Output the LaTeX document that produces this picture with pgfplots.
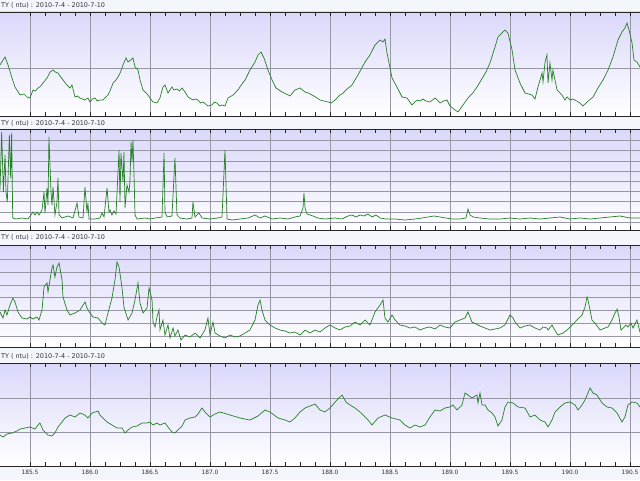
\documentclass[border=0pt]{standalone}
\usepackage{pgfplots}
\pgfplotsset{compat=1.18}
\usepackage{fontspec}
\setmainfont{DejaVu Sans}

\definecolor{pagebg}{RGB}{243,246,250}
\definecolor{lav}{RGB}{218,216,250}
\definecolor{trace}{RGB}{40,128,40}
\definecolor{gridc}{RGB}{150,150,165}
\definecolor{titlec}{RGB}{50,50,60}

\pgfplotsset{
  panel/.style={
    scale only axis, width=16.35cm, anchor=south west,
    xmin=185.2, xmax=190.65, ymin=0,
    axis background/.style={shade, top color=lav, bottom color=white},
    xtick={185.5,186.0,186.5,187.0,187.5,188.0,188.5,189.0,189.5,190.0,190.5},
    minor x tick num=3, xtick pos=both, tick align=inside,
    major tick length=0.1cm, minor tick length=0.1cm,
    xmajorgrids, ymajorgrids,
    major grid style={gridc, line width=0.4pt},
    ytick style={draw=none}, yticklabels={}, xticklabels={},
    axis line style={black!85, line width=0.7pt},
    tick style={black!85, line width=0.5pt},
  },
  wave/.style={trace, line width=0.5pt, mark=none},
}

\begin{document}
\begin{tikzpicture}
\fill[pagebg] (0,0) rectangle (16,12);

% panel 1
\begin{axis}[panel, at={(-0.15cm,9.1cm)}, height=2.6cm, ymax=104, ytick={48}]
\addplot[wave] coordinates {
(185.250,51) (185.275,56) (185.292,59) (185.317,51) (185.350,38) (185.375,29) (185.417,21) (185.450,22)
(185.475,19) (185.500,18) (185.525,26) (185.545,25) (185.567,28) (185.590,30) (185.608,33) (185.642,38)
(185.667,44) (185.692,46) (185.710,44) (185.733,43) (185.750,40) (185.775,36) (185.808,31) (185.833,28)
(185.850,31) (185.875,19) (185.895,20) (185.917,18) (185.958,16) (185.983,18) (186.000,14) (186.020,17)
(186.042,18) (186.060,15) (186.083,16) (186.108,16) (186.150,21) (186.170,26) (186.192,33) (186.210,35)
(186.233,39) (186.255,44) (186.275,51) (186.300,58) (186.317,54) (186.350,57) (186.358,58) (186.375,49)
(186.400,46) (186.417,36) (186.442,26) (186.460,24) (186.483,21) (186.505,17) (186.525,14) (186.558,13)
(186.583,18) (186.608,29) (186.625,31) (186.650,23) (186.683,29) (186.700,26) (186.725,27) (186.745,25)
(186.767,28) (186.792,24) (186.817,19) (186.858,16) (186.880,17) (186.900,16) (186.920,13) (186.942,14)
(186.983,10) (187.017,11) (187.035,14) (187.058,13) (187.080,10) (187.100,11) (187.125,10) (187.150,18)
(187.192,21) (187.233,26) (187.260,31) (187.292,36) (187.333,46) (187.375,54) (187.400,61) (187.425,64)
(187.450,58) (187.483,46) (187.517,36) (187.550,28) (187.575,26) (187.600,24) (187.635,22) (187.667,20)
(187.708,26) (187.750,28) (187.792,24) (187.820,23) (187.850,21) (187.880,19) (187.917,16) (187.950,15)
(187.983,14) (188.010,13) (188.042,16) (188.083,21) (188.110,23) (188.133,26) (188.183,31) (188.233,41)
(188.260,47) (188.292,54) (188.333,61) (188.375,71) (188.400,74) (188.417,76) (188.442,74) (188.458,77)
(188.475,63) (188.517,38) (188.558,29) (188.600,19) (188.642,18) (188.683,11) (188.725,16) (188.750,15)
(188.775,17) (188.800,15) (188.833,14) (188.875,18) (188.917,13) (188.945,15) (188.975,16) (189.000,10)
(189.042,6) (189.067,4) (189.108,11) (189.150,18) (189.190,23) (189.225,29) (189.275,39) (189.300,44)
(189.333,53) (189.375,69) (189.400,79) (189.433,83) (189.458,86) (189.483,83) (189.517,66) (189.542,46)
(189.583,33) (189.625,23) (189.655,22) (189.683,21) (189.708,17) (189.733,29) (189.767,43) (189.775,34)
(189.792,54) (189.808,61) (189.817,33) (189.833,53) (189.850,36) (189.858,46) (189.892,26) (189.933,21)
(189.958,16) (189.975,19) (190.000,16) (190.025,17) (190.055,15) (190.083,13) (190.108,10) (190.142,14)
(190.192,19) (190.233,28) (190.275,36) (190.317,46) (190.358,59) (190.400,76) (190.433,84) (190.458,88)
(190.475,93) (190.492,86) (190.517,73) (190.533,56) (190.558,54) (190.583,49) (190.625,46)
};
\end{axis}

% panel 2
\begin{axis}[panel, at={(-0.15cm,6.25cm)}, height=2.525cm, ymax=101,
  ytick={8,18.2,28.4,38.6,48.8,59,69.2,79.4,89.6}]
\addplot[wave] coordinates {
(185.250,40) (185.264,98) (185.278,38) (185.292,75) (185.300,38) (185.311,28) (185.328,95) (185.339,52)
(185.347,97) (185.356,12) (185.383,11) (185.433,12) (185.483,11) (185.525,18) (185.542,15) (185.558,18)
(185.575,15) (185.600,20) (185.617,38) (185.625,17) (185.642,42) (185.650,25) (185.658,93) (185.675,38)
(185.683,25) (185.692,43) (185.708,15) (185.725,28) (185.733,52) (185.742,15) (185.767,12) (185.817,14)
(185.858,12) (185.892,27) (185.908,13) (185.942,12) (185.958,43) (185.975,18) (185.983,27) (185.992,11)
(186.042,11) (186.083,12) (186.100,17) (186.117,13) (186.142,42) (186.158,18) (186.167,20) (186.183,15)
(186.200,19) (186.217,16) (186.242,80) (186.250,28) (186.258,77) (186.275,48) (186.283,78) (186.292,22)
(186.308,45) (186.325,38) (186.333,48) (186.342,88) (186.350,68) (186.358,90) (186.367,55) (186.375,15)
(186.392,11) (186.458,12) (186.500,11) (186.542,12) (186.600,13) (186.617,77) (186.625,18) (186.642,13)
(186.683,14) (186.708,72) (186.725,15) (186.750,12) (186.808,11) (186.850,12) (186.858,28) (186.875,13)
(186.908,17) (186.933,12) (187.000,11) (187.067,12) (187.100,13) (187.125,80) (187.142,11) (187.183,10)
(187.250,11) (187.317,12) (187.375,15) (187.417,12) (187.458,14) (187.517,11) (187.583,12) (187.650,11)
(187.708,13) (187.750,14) (187.775,22) (187.783,37) (187.792,22) (187.808,16) (187.858,14) (187.900,12)
(187.958,11) (188.042,12) (188.100,11) (188.150,14) (188.183,15) (188.217,13) (188.250,15) (188.283,14)
(188.317,16) (188.350,13) (188.383,15) (188.417,12) (188.467,11) (188.542,11) (188.625,10) (188.708,11)
(188.767,12) (188.817,13) (188.867,14) (188.917,13) (188.967,12) (189.017,11) (189.083,11) (189.133,12)
(189.150,21) (189.167,15) (189.192,13) (189.250,12) (189.333,11) (189.417,11) (189.500,12) (189.583,11)
(189.667,12) (189.750,11) (189.833,12) (189.917,13) (190.000,11) (190.083,12) (190.167,11) (190.250,12)
(190.333,13) (190.417,14) (190.500,12) (190.583,12) (190.625,12)
};
\end{axis}

% panel 3
\begin{axis}[panel, at={(-0.15cm,3.325cm)}, height=2.55cm, ymax=102,
  ytick={11,23.8,36.6,49.4,62.2,75,87.8}]
\addplot[wave] coordinates {
(185.250,35) (185.275,29) (185.292,37) (185.308,32) (185.333,42) (185.358,49) (185.375,45) (185.400,35)
(185.433,29) (185.475,28) (185.500,30) (185.525,28) (185.558,30) (185.575,27) (185.600,37) (185.617,60)
(185.642,64) (185.650,55) (185.683,79) (185.692,82) (185.708,70) (185.725,80) (185.742,84) (185.767,67)
(185.775,50) (185.808,37) (185.833,32) (185.875,34) (185.917,37) (185.958,45) (185.975,39) (186.000,34)
(186.025,30) (186.067,29) (186.100,24) (186.125,22) (186.150,34) (186.183,49) (186.208,67) (186.225,85)
(186.242,80) (186.267,59) (186.283,40) (186.317,27) (186.350,34) (186.375,47) (186.400,64) (186.417,44)
(186.442,34) (186.475,39) (186.492,59) (186.517,47) (186.525,25) (186.542,20) (186.558,30) (186.575,37)
(186.583,17) (186.608,27) (186.625,12) (186.650,22) (186.667,9) (186.692,19) (186.708,11) (186.733,17)
(186.758,7) (186.792,12) (186.833,10) (186.875,14) (186.917,9) (186.958,17) (186.983,29) (187.000,12)
(187.025,25) (187.042,14) (187.083,11) (187.125,9) (187.167,12) (187.208,10) (187.250,11) (187.292,14)
(187.333,17) (187.375,27) (187.400,42) (187.417,47) (187.433,37) (187.458,27) (187.500,22) (187.542,19)
(187.583,17) (187.625,16) (187.667,14) (187.708,15) (187.750,12) (187.792,17) (187.833,14) (187.875,17)
(187.917,15) (187.958,19) (188.000,22) (188.042,19) (188.083,17) (188.125,20) (188.167,21) (188.208,25)
(188.250,22) (188.292,27) (188.333,22) (188.375,35) (188.417,42) (188.442,47) (188.458,29) (188.483,25)
(188.517,32) (188.542,27) (188.583,22) (188.625,21) (188.667,19) (188.708,20) (188.750,17) (188.792,19)
(188.833,20) (188.875,18) (188.917,22) (188.958,20) (189.000,19) (189.042,25) (189.083,27) (189.125,29)
(189.150,35) (189.183,25) (189.217,23) (189.250,21) (189.292,19) (189.333,17) (189.375,18) (189.417,19)
(189.458,22) (189.500,32) (189.525,29) (189.542,25) (189.583,19) (189.625,21) (189.667,22) (189.708,19)
(189.750,17) (189.775,20) (189.808,19) (189.817,17) (189.850,22) (189.858,20) (189.883,15) (189.900,12)
(189.942,14) (189.975,17) (190.017,22) (190.058,27) (190.100,32) (190.125,40) (190.142,50) (190.150,47)
(190.167,37) (190.183,27) (190.208,24) (190.250,17) (190.292,19) (190.317,20) (190.350,27) (190.375,34)
(190.392,38) (190.408,30) (190.425,17) (190.442,19) (190.467,22) (190.483,20) (190.508,24) (190.525,19)
(190.558,27) (190.583,15) (190.625,22)
};
\end{axis}

% panel 4
\begin{axis}[panel, at={(-0.15cm,0.35cm)}, height=2.575cm, ymax=103, ytick={34,68},
  xticklabel pos=lower,
  xticklabels={185.5,186.0,186.5,187.0,187.5,188.0,188.5,189.0,189.5,190.0,190.5},
  xticklabel style={font=\fontsize{4.2}{5}\selectfont, text=titlec, anchor=center, yshift=-0.17cm}]
\addplot[wave] coordinates {
(185.250,31) (185.275,29) (185.308,32) (185.350,33) (185.392,35) (185.417,37) (185.458,38) (185.500,39)
(185.542,37) (185.567,41) (185.583,43) (185.608,36) (185.650,31) (185.683,30) (185.708,33) (185.733,39)
(185.767,44) (185.792,48) (185.833,51) (185.875,49) (185.917,53) (185.958,51) (185.983,48) (186.017,53)
(186.042,54) (186.067,55) (186.083,51) (186.108,48) (186.142,44) (186.183,41) (186.225,38) (186.267,38)
(186.292,33) (186.317,36) (186.350,39) (186.392,40) (186.433,43) (186.475,43) (186.500,44) (186.525,41)
(186.558,43) (186.583,41) (186.625,43) (186.650,39) (186.683,34) (186.708,33) (186.733,36) (186.767,40)
(186.792,46) (186.833,48) (186.875,49) (186.900,52) (186.933,58) (186.958,54) (187.000,49) (187.042,52)
(187.083,54) (187.167,51) (187.250,48) (187.333,46) (187.400,50) (187.458,56) (187.500,54) (187.567,48)
(187.625,46) (187.667,44) (187.708,48) (187.750,54) (187.792,58) (187.833,60) (187.875,62) (187.917,56)
(187.958,54) (188.000,58) (188.058,66) (188.100,71) (188.133,64) (188.167,61) (188.208,58) (188.250,54)
(188.317,46) (188.350,41) (188.400,48) (188.458,51) (188.517,48) (188.583,46) (188.625,41) (188.667,38)
(188.708,41) (188.750,39) (188.792,41) (188.833,49) (188.875,56) (188.917,55) (188.958,58) (189.000,59)
(189.025,61) (189.058,56) (189.100,61) (189.125,73) (189.150,71) (189.183,68) (189.225,71) (189.233,63)
(189.250,73) (189.267,61) (189.292,61) (189.317,56) (189.350,53) (189.375,49) (189.400,40) (189.433,46)
(189.458,59) (189.483,64) (189.525,63) (189.567,59) (189.625,58) (189.667,49) (189.708,51) (189.750,46)
(189.792,44) (189.817,39) (189.850,46) (189.875,54) (189.917,59) (189.958,63) (190.000,64) (190.042,61)
(190.067,56) (190.100,61) (190.125,66) (190.167,78) (190.192,73) (190.225,71) (190.267,63) (190.308,59)
(190.350,58) (190.392,53) (190.433,44) (190.458,49) (190.483,61) (190.517,64) (190.558,63) (190.583,59)
(190.625,56)
};
\end{axis}

\begin{scope}[every node/.style={anchor=west, inner sep=0, text=titlec, font=\fontsize{4.6}{5.5}\selectfont}]
\node at (0.02,11.875) {TY ( ntu) : 2010-7-4 - 2010-7-10};
\node at (0.02,8.925) {TY ( ntu) : 2010-7-4 - 2010-7-10};
\node at (0.02,6.075) {TY ( ntu) : 2010-7-4 - 2010-7-10};
\node at (0.02,3.1) {TY ( ntu) : 2010-7-4 - 2010-7-10};
\end{scope}

\pgfresetboundingbox
\path (0,0) rectangle (16,12);
\end{tikzpicture}
\end{document}
